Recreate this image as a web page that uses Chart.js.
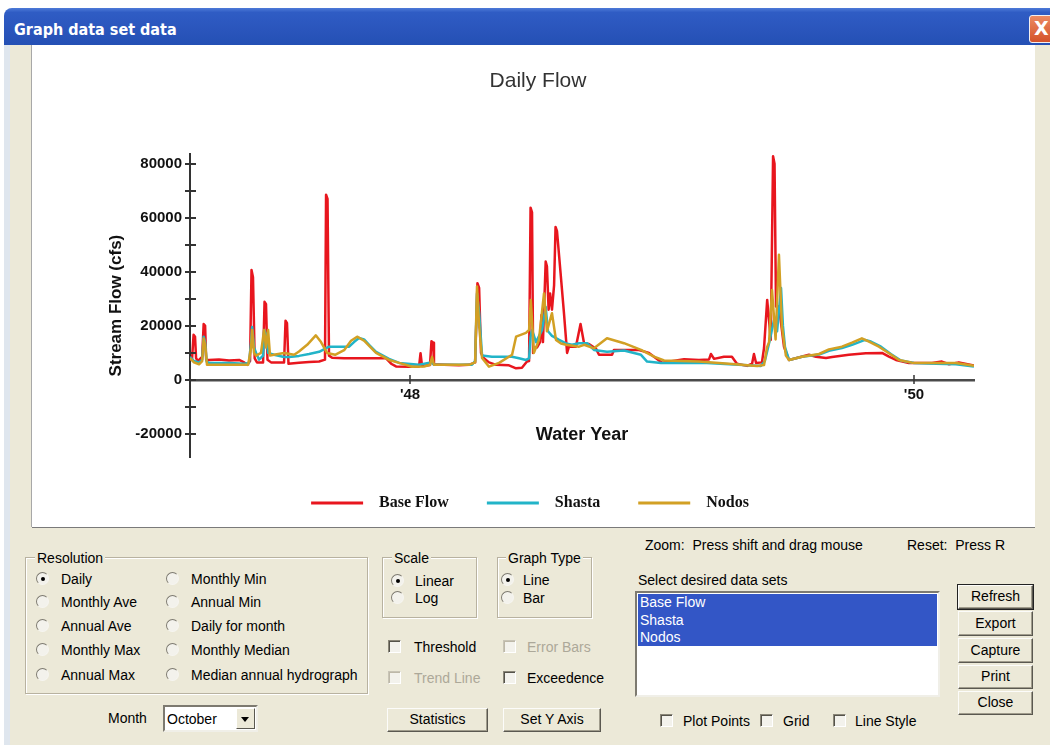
<!DOCTYPE html>
<html lang="en">

<head>
    <meta charset="UTF-8">
    <title>Graph data set data</title>
    <script src="https://cdn.jsdelivr.net/npm/chart.js"></script>
    <style>
        body { margin: 0; background: #fff; width: 1050px; height: 745px; overflow: hidden; position: relative;
               font-family: "Liberation Sans", Arial, sans-serif; font-size: 14px; color: #000; }
        .abs { position: absolute; }
        #frame { left: 4px; top: 8px; width: 1060px; height: 740px; background: #dfe6ee; border-radius: 8px 8px 0 0; }
        #titlebar { left: 4px; top: 8px; width: 1060px; height: 37px; border-radius: 8px 8px 0 0;
                    background: linear-gradient(#4d7ad8 0%, #2f5cc4 12%, #2a55bc 60%, #2450b4 100%); }
        #titletext { left: 14px; top: 20px; color: #fff; font: bold 16px "DejaVu Sans Condensed", "DejaVu Sans", sans-serif; }
        #closebtn { left: 1029px; top: 15px; width: 24px; height: 26px; border: 1px solid #f4f0f0; border-radius: 3px;
                    background: linear-gradient(#ec8a62, #d4522a); color: #fff; font: bold 19px "DejaVu Sans", sans-serif;
                    line-height: 25px; text-indent: 4px; }
        #client { left: 10px; top: 45px; width: 1050px; height: 700px; background: #ece9d8; }
        #panel { left: 32px; top: 45px; width: 1003px; height: 482px; background: #fff;
                 box-shadow: -1px 0 0 #a8a8a8, 0 1px 0 #7a7a7a; }
        .txt { position: absolute; line-height: 18px; white-space: nowrap; }
        .dim { color: #aca899; }
        .group { position: absolute; border: 1px solid #b8b2a0; box-shadow: 1px 1px 0 #fff inset, 1px 1px 0 #fff; }
        .glabel { position: absolute; line-height: 16px; background: #ece9d8; padding: 0 2px; }
        .rb { position: absolute; width: 11px; height: 11px; border-radius: 50%; border: 1px solid;
              border-color: #7d7a70 #f6f5f0 #f6f5f0 #7d7a70; background: #f3f2ec; }
        .rb.on::after { content: ''; position: absolute; left: 3.5px; top: 3.5px; width: 4px; height: 4px;
                        border-radius: 50%; background: #000; }
        .cb { position: absolute; width: 11px; height: 11px; border: 1px solid; border-color: #8a8678 #fff #fff #8a8678;
              box-shadow: inset 1px 1px 0 #55534a; background: #f3f2ec; }
        .cb.off { box-shadow: inset 1px 1px 0 #bdb8a8; border-color: #c8c4b6 #fff #fff #c8c4b6; }
        .btn { position: absolute; box-sizing: border-box; text-align: center; background: #ece9d8;
               border: 1px solid; border-color: #fcfcfa #5a5850 #5a5850 #fcfcfa; box-shadow: inset -1px -1px 0 #a09c8c; }
        .btn.def { outline: 1px solid #222; }
        #listbox { left: 635px; top: 591px; width: 305px; height: 106px; box-sizing: border-box; background: #fff;
                   border: 2px solid; border-color: #7d7a70 #f0efe8 #f0efe8 #7d7a70; }
        #selected { left: 1px; top: 1px; width: 299px; height: 52px; background: #3356c6; }
        .item { position: absolute; left: 3px; color: #fff; line-height: 17px; }
        #monthsel { left: 163px; top: 705px; width: 95px; height: 27px; box-sizing: border-box; background: #fff;
                    border: 2px solid; border-color: #7d7a70 #f0efe8 #f0efe8 #7d7a70; }
        #monthbtn { right: 1px; top: 1px; width: 19px; height: 21px; box-sizing: border-box; background: #ece9d8;
                    border: 1px solid; border-color: #fff #5a5850 #5a5850 #fff; }
        #monthbtn::after { content: ''; position: absolute; left: 4px; top: 8px; border: 4px solid transparent;
                           border-top: 5px solid #000; border-bottom: 0; }
    </style>
</head>

<body>
    <div class="abs" id="frame"></div>
    <div class="abs" id="titlebar"></div>
    <div class="abs" id="titletext">Graph data set data</div>
    <div class="abs" id="closebtn">X</div>
    <div class="abs" id="client"></div>

    <div class="abs" id="panel">
        <canvas id="flowChart" width="1003" height="482"></canvas>
    </div>

    <!-- Resolution -->
    <div class="group" style="left:25px; top:557px; width:341px; height:135px;"></div>
    <div class="glabel" style="left:35px; top:550px;">Resolution</div>
    <span class="rb on" style="left:36px; top:572px;"></span><div class="txt" style="left:61px; top:570px;">Daily</div>
    <span class="rb" style="left:36px; top:595px;"></span><div class="txt" style="left:61px; top:593px;">Monthly Ave</div>
    <span class="rb" style="left:36px; top:619px;"></span><div class="txt" style="left:61px; top:617px;">Annual Ave</div>
    <span class="rb" style="left:36px; top:643px;"></span><div class="txt" style="left:61px; top:641px;">Monthly Max</div>
    <span class="rb" style="left:36px; top:668px;"></span><div class="txt" style="left:61px; top:666px;">Annual Max</div>
    <span class="rb" style="left:166px; top:572px;"></span><div class="txt" style="left:191px; top:570px;">Monthly Min</div>
    <span class="rb" style="left:166px; top:595px;"></span><div class="txt" style="left:191px; top:593px;">Annual Min</div>
    <span class="rb" style="left:166px; top:619px;"></span><div class="txt" style="left:191px; top:617px;">Daily for month</div>
    <span class="rb" style="left:166px; top:643px;"></span><div class="txt" style="left:191px; top:641px;">Monthly Median</div>
    <span class="rb" style="left:166px; top:668px;"></span><div class="txt" style="left:191px; top:666px;">Median annual hydrograph</div>

    <div class="txt" style="left:108px; top:709px;">Month</div>
    <div class="abs" id="monthsel">
        <div class="txt" style="left:2px; top:3px;">October</div>
        <div class="abs" id="monthbtn"></div>
    </div>

    <!-- Scale / Graph Type -->
    <div class="group" style="left:382px; top:557px; width:93px; height:59px;"></div>
    <div class="glabel" style="left:392px; top:550px;">Scale</div>
    <span class="rb on" style="left:391px; top:574px;"></span><div class="txt" style="left:415px; top:572px;">Linear</div>
    <span class="rb" style="left:391px; top:591px;"></span><div class="txt" style="left:415px; top:589px;">Log</div>

    <div class="group" style="left:497px; top:557px; width:93px; height:59px;"></div>
    <div class="glabel" style="left:506px; top:550px;">Graph Type</div>
    <span class="rb on" style="left:501px; top:573px;"></span><div class="txt" style="left:523px; top:571px;">Line</div>
    <span class="rb" style="left:501px; top:591px;"></span><div class="txt" style="left:523px; top:589px;">Bar</div>

    <span class="cb" style="left:388px; top:640px;"></span><div class="txt" style="left:414px; top:638px;">Threshold</div>
    <span class="cb off" style="left:503px; top:640px;"></span><div class="txt dim" style="left:527px; top:638px;">Error Bars</div>
    <span class="cb off" style="left:388px; top:671px;"></span><div class="txt dim" style="left:414px; top:669px;">Trend Line</div>
    <span class="cb" style="left:503px; top:671px;"></span><div class="txt" style="left:527px; top:669px;">Exceedence</div>

    <div class="btn" style="left:387px; top:708px; width:101px; height:24px; line-height:21px;">Statistics</div>
    <div class="btn" style="left:503px; top:708px; width:98px; height:24px; line-height:21px;">Set Y Axis</div>

    <!-- data set list and actions -->
    <div class="txt" style="left:645px; top:536px;">Zoom:&nbsp; Press shift and drag mouse</div>
    <div class="txt" style="left:907px; top:536px;">Reset:&nbsp; Press R</div>
    <div class="txt" style="left:638px; top:571px;">Select desired data sets</div>
    <div class="abs" id="listbox">
        <div class="abs" id="selected"></div>
        <div class="item" style="top:1px;">Base Flow</div>
        <div class="item" style="top:18.5px;">Shasta</div>
        <div class="item" style="top:36px;">Nodos</div>
    </div>

    <div class="btn def" style="left:958px; top:585px; width:75px; height:24px; line-height:21px;">Refresh</div>
    <div class="btn" style="left:958px; top:611px; width:75px; height:25px; line-height:22px;">Export</div>
    <div class="btn" style="left:958px; top:638px; width:75px; height:25px; line-height:22px;">Capture</div>
    <div class="btn" style="left:958px; top:665px; width:75px; height:24px; line-height:21px;">Print</div>
    <div class="btn" style="left:958px; top:691px; width:75px; height:24px; line-height:21px;">Close</div>

    <span class="cb" style="left:660px; top:714px;"></span><div class="txt" style="left:683px; top:712px;">Plot Points</div>
    <span class="cb" style="left:760px; top:714px;"></span><div class="txt" style="left:783px; top:712px;">Grid</div>
    <span class="cb" style="left:833px; top:714px;"></span><div class="txt" style="left:855px; top:712px;">Line Style</div>

    <script>
        // x = months since the start of water year 1948 (Oct 1947), y = flow in cfs
        const baseFlow = [
            [-10.48, 7400], [-10.38, 8000], [-10.31, 16700], [-10.24, 16000], [-10.19, 8000], [-10.10, 7000],
            [-9.90, 8500], [-9.83, 20700], [-9.76, 20000], [-9.71, 7500], [-9.57, 7400], [-9.10, 7600],
            [-8.62, 7200], [-8.14, 7400], [-7.90, 6500], [-7.76, 5600], [-7.62, 7000], [-7.55, 40700],
            [-7.48, 38000], [-7.40, 8000], [-7.29, 6500], [-7.00, 6500], [-6.93, 28900], [-6.86, 28000],
            [-6.79, 7500], [-6.62, 6500], [-6.00, 6500], [-5.93, 21900], [-5.86, 21000], [-5.79, 6000],
            [-5.29, 6400], [-4.81, 6600], [-4.33, 6800], [-4.05, 7500], [-4.00, 68500], [-3.93, 67000],
            [-3.86, 9000], [-3.71, 8200], [-3.14, 8000], [-2.43, 8000], [-1.71, 8000], [-1.14, 8000],
            [-0.90, 6000], [-0.67, 5000], [-0.05, 4900], [0.43, 5000], [0.50, 9900], [0.57, 5200],
            [0.95, 5500], [1.02, 14300], [1.10, 13800], [1.14, 5800], [1.62, 5600], [2.33, 5400],
            [2.81, 5600], [3.10, 6500], [3.21, 35800], [3.29, 34000], [3.38, 10000], [3.52, 8000],
            [3.76, 6500], [4.10, 5600], [4.71, 5400], [5.05, 4300], [5.33, 4500], [5.57, 6800],
            [5.67, 7000], [5.74, 63700], [5.81, 62000], [5.86, 10000], [5.95, 12000], [6.05, 12000],
            [6.19, 14000], [6.26, 24000], [6.33, 14000], [6.46, 43800], [6.52, 42000], [6.60, 26000],
            [6.67, 32000], [6.76, 26000], [6.86, 35000], [6.93, 56600], [7.00, 55000], [7.17, 39500],
            [7.33, 24800], [7.48, 10000], [7.57, 12300], [7.90, 12300], [8.12, 20700], [8.29, 13500],
            [8.52, 13300], [8.86, 11500], [9.00, 9300], [9.62, 9300], [9.71, 11100], [10.90, 11100],
            [11.38, 10000], [12.00, 6400], [13.05, 7700], [13.76, 7400], [14.24, 7600], [14.33, 9600],
            [14.48, 7800], [14.95, 8600], [15.33, 8600], [15.57, 6000], [16.05, 5200], [16.29, 6000],
            [16.38, 9600], [16.48, 6300], [16.76, 6500], [16.86, 11800], [17.01, 29600], [17.18, 14800],
            [17.29, 82700], [17.36, 80000], [17.43, 27200], [17.57, 27200], [17.81, 12300], [18.05, 7400],
            [19.00, 9300], [19.33, 8600], [19.81, 8100], [20.10, 8500], [20.90, 9300], [21.71, 9900],
            [22.48, 10000], [22.81, 8600], [23.14, 7400], [23.76, 6300], [24.86, 6300], [25.33, 6800],
            [25.67, 5800], [26.14, 6500], [26.86, 5300]
        ];

        const shasta = [
            [-10.48, 8500], [-10.29, 7000], [-10.05, 6500], [-9.90, 7500], [-9.83, 16000], [-9.76, 14000],
            [-9.69, 6800], [-9.57, 6300], [-8.62, 6300], [-7.90, 6000], [-7.67, 6300], [-7.57, 14000],
            [-7.52, 19600], [-7.43, 12000], [-7.33, 10000], [-7.19, 7500], [-7.00, 9000], [-6.95, 18500],
            [-6.86, 17000], [-6.76, 10000], [-6.48, 9300], [-6.00, 8500], [-5.76, 8500], [-5.29, 8900],
            [-4.81, 9600], [-4.33, 10400], [-3.86, 12300], [-3.14, 12300], [-2.90, 12300], [-2.67, 14000],
            [-2.43, 15500], [-2.19, 15000], [-1.95, 13000], [-1.62, 10400], [-1.00, 7800], [-0.52, 6300],
            [0.43, 5600], [1.00, 6500], [1.14, 5600], [2.95, 5600], [3.10, 7000], [3.19, 32000],
            [3.29, 25000], [3.43, 9000], [3.90, 8600], [4.86, 8600], [5.19, 8000], [5.52, 7400],
            [5.67, 8000], [5.74, 16000], [5.81, 18500], [6.00, 14000], [6.29, 18500], [6.46, 27000],
            [6.57, 18000], [6.76, 16300], [7.10, 14800], [7.43, 13500], [7.71, 13000], [8.05, 13600],
            [8.43, 13600], [8.76, 11100], [9.38, 10400], [10.19, 10900], [11.00, 9300], [11.29, 6800],
            [11.95, 6300], [14.14, 6300], [16.71, 5200], [16.90, 7000], [17.10, 13600], [17.33, 22000],
            [17.48, 18000], [17.67, 34000], [17.76, 20000], [17.86, 12000], [18.05, 7400], [18.67, 8600],
            [19.48, 9400], [19.95, 10800], [20.57, 11800], [21.05, 13000], [21.67, 14800], [21.95, 14200],
            [22.43, 12300], [22.90, 9600], [23.38, 7200], [24.00, 6300], [25.05, 6000], [26.00, 5800],
            [26.86, 5000]
        ];

        const nodos = [
            [-10.48, 8100], [-10.29, 6500], [-10.05, 5800], [-9.90, 7000], [-9.83, 15300], [-9.76, 13000],
            [-9.67, 5600], [-8.62, 5600], [-7.71, 5600], [-7.57, 12000], [-7.52, 18500], [-7.43, 10000],
            [-7.33, 9000], [-7.10, 10000], [-6.95, 18500], [-6.86, 12000], [-6.76, 18500], [-6.67, 9000],
            [-6.48, 9300], [-6.00, 10000], [-5.52, 9300], [-5.29, 10500], [-4.90, 13000], [-4.49, 16500],
            [-4.24, 14000], [-3.95, 10000], [-3.57, 9300], [-3.14, 11000], [-2.81, 14500], [-2.52, 16000],
            [-2.19, 14500], [-1.62, 10000], [-1.00, 7400], [-0.52, 6300], [0.10, 4900], [0.67, 5000],
            [0.95, 5600], [1.05, 8500], [1.14, 5600], [2.81, 5600], [3.10, 6500], [3.19, 34600],
            [3.29, 20000], [3.43, 8100], [3.76, 4900], [4.24, 6300], [4.86, 9300], [5.05, 16000],
            [5.52, 17400], [5.67, 18500], [5.75, 29600], [5.90, 10000], [6.14, 14800], [6.38, 32000],
            [6.52, 18000], [6.76, 24700], [6.95, 14800], [7.19, 13500], [7.43, 13000], [8.05, 12300],
            [8.29, 13000], [8.76, 11700], [9.38, 15400], [10.19, 13600], [11.00, 11100], [11.62, 8600],
            [12.10, 7200], [13.76, 6800], [15.19, 6000], [16.52, 5200], [16.86, 5500], [17.00, 12000],
            [17.10, 14000], [17.24, 33300], [17.41, 15000], [17.57, 46300], [17.71, 20000], [17.90, 9000],
            [18.05, 7400], [18.67, 8600], [19.48, 9600], [19.95, 11300], [20.57, 12300], [21.05, 13800],
            [21.52, 15400], [21.86, 14200], [22.33, 12300], [22.81, 9900], [23.29, 7400], [23.90, 6400],
            [25.05, 6300], [26.00, 6300], [26.86, 5200]
        ];

        const seriesNames = ['Base Flow', 'Shasta', 'Nodos'];
        const seriesColors = ['#e8161e', '#22b4c8', '#d2a024'];

        const yTickValues = [-20000, -10000, 0, 10000, 20000, 30000, 40000, 50000, 60000, 70000, 80000];
        const xTickValues = [0, 24];
        const xTickLabels = ["'48", "'50"];

        Chart.defaults.font.family = '"Liberation Sans", Arial, sans-serif';

        function toPoints(serie) {
            return serie.map(function (p) { return { x: p[0], y: p[1] }; });
        }

        // ticks that cross both axis lines
        const crossTicks = {
            id: 'crossTicks',
            afterDraw(chart) {
                const ctx = chart.ctx;
                const x = chart.scales.x;
                const y = chart.scales.y;
                const left = chart.chartArea.left;
                const zero = Math.round(y.getPixelForValue(0));
                ctx.save();
                ctx.strokeStyle = '#333';
                ctx.lineWidth = 2;
                y.ticks.forEach(function (t) {
                    const py = Math.round(y.getPixelForValue(t.value));
                    ctx.beginPath();
                    ctx.moveTo(left - 5, py);
                    ctx.lineTo(left + 6, py);
                    ctx.stroke();
                });
                ctx.lineWidth = 1.5;
                x.ticks.forEach(function (t) {
                    const px = Math.round(x.getPixelForValue(t.value));
                    ctx.beginPath();
                    ctx.moveTo(px, zero - 5);
                    ctx.lineTo(px, zero + 4);
                    ctx.stroke();
                });
                ctx.restore();
            }
        };

        // legend row sits a little left of the plot centre
        const legendShift = {
            id: 'legendShift',
            afterLayout(chart) {
                chart.legend.left -= 8;
                chart.legend.right -= 8;
            }
        };

        const dados = {
            datasets: [baseFlow, shasta, nodos].map(function (serie, i) {
                return {
                    label: seriesNames[i],
                    data: toPoints(serie),
                    borderColor: seriesColors[i],
                    backgroundColor: seriesColors[i],
                    borderWidth: 2.5,
                    borderJoinStyle: 'round',
                    pointRadius: 0,
                    tension: 0,
                    order: 3 - i
                };
            })
        };

        const config = {
            type: 'line',
            data: dados,
            plugins: [crossTicks, legendShift],
            options: {
                responsive: false,
                animation: false,
                layout: { padding: { left: 70, right: 61, top: 0, bottom: 6 } },
                plugins: {
                    tooltip: { enabled: false },
                    title: {
                        display: true,
                        text: 'Daily Flow',
                        color: '#333',
                        font: { size: 21, weight: 'normal' },
                        padding: { top: 24, bottom: 60 }
                    },
                    legend: {
                        position: 'bottom',
                        labels: {
                            boxWidth: 52,
                            boxHeight: 3,
                            padding: 38,
                            color: '#111',
                            font: { family: '"Liberation Serif", serif', size: 16, weight: 'bold' },
                            sort: function (a, b) { return a.datasetIndex - b.datasetIndex; },
                            generateLabels: function (chart) {
                                return Chart.defaults.plugins.legend.labels.generateLabels(chart).map(function (l) {
                                    l.lineWidth = 0;
                                    l.text = '  ' + l.text;
                                    return l;
                                });
                            }
                        }
                    }
                },
                scales: {
                    x: {
                        type: 'linear',
                        position: { y: 0 },
                        min: -10.48,
                        max: 26.86,
                        afterBuildTicks: function (scale) {
                            scale.ticks = xTickValues.map(function (v) { return { value: v }; });
                        },
                        ticks: {
                            autoSkip: false,
                            maxRotation: 0,
                            padding: 6,
                            color: '#111',
                            font: { size: 15, weight: 'bold' },
                            callback: function (value) {
                                const i = xTickValues.indexOf(value);
                                return i >= 0 ? xTickLabels[i] : '';
                            }
                        },
                        grid: { drawOnChartArea: false, drawTicks: false },
                        border: { color: '#4a4a4a', width: 2.5 },
                        title: {
                            display: true,
                            text: 'Water Year',
                            color: '#111',
                            font: { size: 18, weight: 'bold' },
                            padding: { top: 14, bottom: 4 }
                        }
                    },
                    y: {
                        min: -28500,
                        max: 83500,
                        afterBuildTicks: function (scale) {
                            scale.ticks = yTickValues.map(function (v) { return { value: v }; });
                        },
                        afterFit: function (scale) { scale.width = 88; },
                        ticks: {
                            padding: 8,
                            color: '#111',
                            font: { size: 15, weight: 'bold' },
                            callback: function (value) { return value % 20000 === 0 ? String(value) : ''; }
                        },
                        grid: { drawOnChartArea: false, drawTicks: false },
                        border: { color: '#333', width: 2 },
                        title: {
                            display: true,
                            text: 'Stream Flow (cfs)',
                            color: '#111',
                            font: { size: 17, weight: 'bold' },
                            padding: { top: 4, bottom: 4 }
                        }
                    }
                }
            }
        };

        const myChart = new Chart(document.getElementById('flowChart'), config);
    </script>
</body>

</html>
